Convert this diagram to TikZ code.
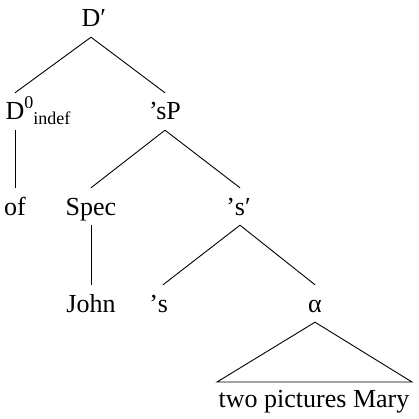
\documentclass[tikz,border=0pt]{standalone}
\usepackage{fontspec}
\setmainfont{Liberation Serif}
\begin{document}
\begin{tikzpicture}[x=1pt,y=-1pt,
  lab/.style={anchor=base,inner sep=0pt,text height=27pt,text depth=10pt,font=\fontsize{26}{30}\selectfont},
  edge/.style={line width=0.9pt}]
\useasboundingbox (0,0) rectangle (418,419);
\node[lab] (Dp) at (91,27) {D\rlap{′}};
\node[lab] (D0) at (15,120) {D\rlap{\raisebox{11pt}{\fontsize{18}{18}\selectfont 0}\raisebox{-5pt}{\fontsize{18}{18}\selectfont indef}}};
\node[lab] (sP) at (165,120) {’sP};
\node[lab] (of) at (15,215) {of};
\node[lab] (Spec) at (91,215) {Spec};
\node[lab] (sbar) at (240,215) {\llap{’}s\rlap{′}};
\node[lab] (John) at (91,312) {John};
\node[lab] (s) at (163,312) {\llap{’}s};
\node[lab] (alpha) at (315,312) {α};
\node[lab,text height=25pt] (yield) at (314,407) {two pictures Mary};
\coordinate (bl) at (217,382);
\coordinate (br) at (412,382);
\draw[edge] (Dp.south) -- (D0.north);
\draw[edge] (Dp.south) -- (sP.north);
\draw[edge] (D0.south) -- (of.north);
\draw[edge] (sP.south) -- (Spec.north);
\draw[edge] (sP.south) -- (sbar.north);
\draw[edge] (Spec.south) -- (John.north);
\draw[edge] (sbar.south) -- (s.north);
\draw[edge] (sbar.south) -- (alpha.north);
\draw[edge] (alpha.south) -- (bl) -- (br) -- cycle;
\end{tikzpicture}
\end{document}
